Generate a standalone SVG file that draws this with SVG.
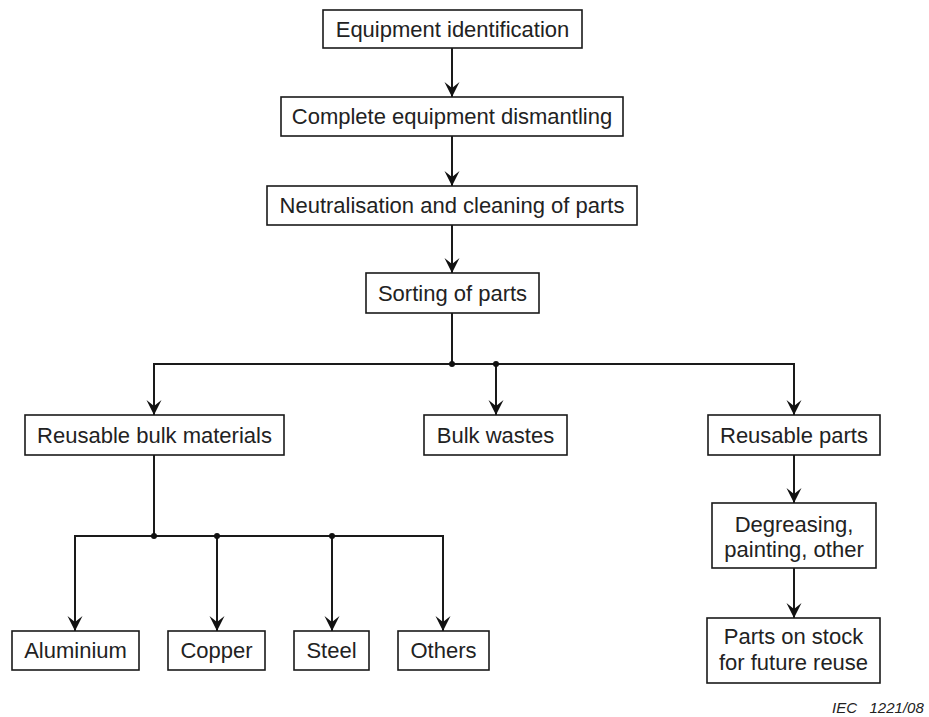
<svg xmlns="http://www.w3.org/2000/svg" width="929" height="717" viewBox="0 0 929 717">
  <defs>
    <style>
      .box { fill: #ffffff; stroke: #1a1a1a; stroke-width: 1.6; }
      .lbl { font-family: "Liberation Sans", Arial, sans-serif; font-size: 22px; fill: #222222; text-anchor: middle; }
      .wire { fill: none; stroke: #1a1a1a; stroke-width: 2; }
      .dot { fill: #111111; }
      .note { font-family: "Liberation Sans", Arial, sans-serif; font-size: 15px; font-style: italic; fill: #222222; }
    </style>
    <!-- barbed arrowhead, drawn pointing along +x -->
    <marker id="arrow" viewBox="0 0 16 16" refX="16" refY="8" markerWidth="16" markerHeight="16" markerUnits="userSpaceOnUse" orient="auto-start-reverse">
      <path d="M16 8 L1 0.5 L7 8 L1 15.5 Z" fill="#111111"/>
    </marker>
  </defs>

  <!-- connectors -->
  <g id="connectors">
    <path class="wire" d="M452 48 V97" marker-end="url(#arrow)"/>
    <path class="wire" d="M452 136 V186" marker-end="url(#arrow)"/>
    <path class="wire" d="M452 225 V273" marker-end="url(#arrow)"/>
    <path class="wire" d="M452 313 V364"/>
    <path class="wire" d="M154 415 V364 H794 V415" marker-start="url(#arrow)" marker-end="url(#arrow)"/>
    <path class="wire" d="M496 364 V415" marker-end="url(#arrow)"/>
    <path class="wire" d="M154 455 V536"/>
    <path class="wire" d="M75 631 V536 H443 V631" marker-start="url(#arrow)" marker-end="url(#arrow)"/>
    <path class="wire" d="M217 536 V631" marker-end="url(#arrow)"/>
    <path class="wire" d="M332 536 V631" marker-end="url(#arrow)"/>
    <path class="wire" d="M794 455 V503" marker-end="url(#arrow)"/>
    <path class="wire" d="M794 568 V618" marker-end="url(#arrow)"/>
    <circle class="dot" cx="452" cy="364" r="3"/>
    <circle class="dot" cx="496" cy="364" r="3"/>
    <circle class="dot" cx="154" cy="536" r="3"/>
    <circle class="dot" cx="217" cy="536" r="3"/>
    <circle class="dot" cx="332" cy="536" r="3"/>
  </g>

  <!-- nodes -->
  <g id="equipment-identification">
    <rect class="box" x="323" y="10" width="259" height="38"/>
    <text class="lbl" x="452.5" y="37">Equipment identification</text>
  </g>
  <g id="complete-dismantling">
    <rect class="box" x="281" y="97" width="342" height="39"/>
    <text class="lbl" x="452" y="124">Complete equipment dismantling</text>
  </g>
  <g id="neutralisation-cleaning">
    <rect class="box" x="267" y="186" width="370" height="39"/>
    <text class="lbl" x="452" y="213">Neutralisation and cleaning of parts</text>
  </g>
  <g id="sorting">
    <rect class="box" x="366" y="273" width="173" height="40"/>
    <text class="lbl" x="452.5" y="301">Sorting of parts</text>
  </g>
  <g id="reusable-bulk-materials">
    <rect class="box" x="25" y="415" width="259" height="40"/>
    <text class="lbl" x="154.5" y="443">Reusable bulk materials</text>
  </g>
  <g id="bulk-wastes">
    <rect class="box" x="424" y="415" width="143" height="40"/>
    <text class="lbl" x="495.5" y="443">Bulk wastes</text>
  </g>
  <g id="reusable-parts">
    <rect class="box" x="708" y="415" width="172" height="40"/>
    <text class="lbl" x="794" y="443">Reusable parts</text>
  </g>
  <g id="degreasing">
    <rect class="box" x="712" y="503" width="164" height="65"/>
    <text class="lbl" x="794" y="532">Degreasing,</text>
    <text class="lbl" x="794" y="557">painting, other</text>
  </g>
  <g id="parts-on-stock">
    <rect class="box" x="707" y="618" width="173" height="65"/>
    <text class="lbl" x="793.5" y="644">Parts on stock</text>
    <text class="lbl" x="793.5" y="670">for future reuse</text>
  </g>
  <g id="aluminium">
    <rect class="box" x="12" y="631" width="127" height="39"/>
    <text class="lbl" x="75.5" y="658">Aluminium</text>
  </g>
  <g id="copper">
    <rect class="box" x="168" y="631" width="97" height="39"/>
    <text class="lbl" x="216.5" y="658">Copper</text>
  </g>
  <g id="steel">
    <rect class="box" x="294" y="631" width="75" height="39"/>
    <text class="lbl" x="331.5" y="658">Steel</text>
  </g>
  <g id="others">
    <rect class="box" x="398" y="631" width="91" height="39"/>
    <text class="lbl" x="443.5" y="658">Others</text>
  </g>

  <text class="note" x="832" y="713" xml:space="preserve">IEC   1221/08</text>
</svg>
